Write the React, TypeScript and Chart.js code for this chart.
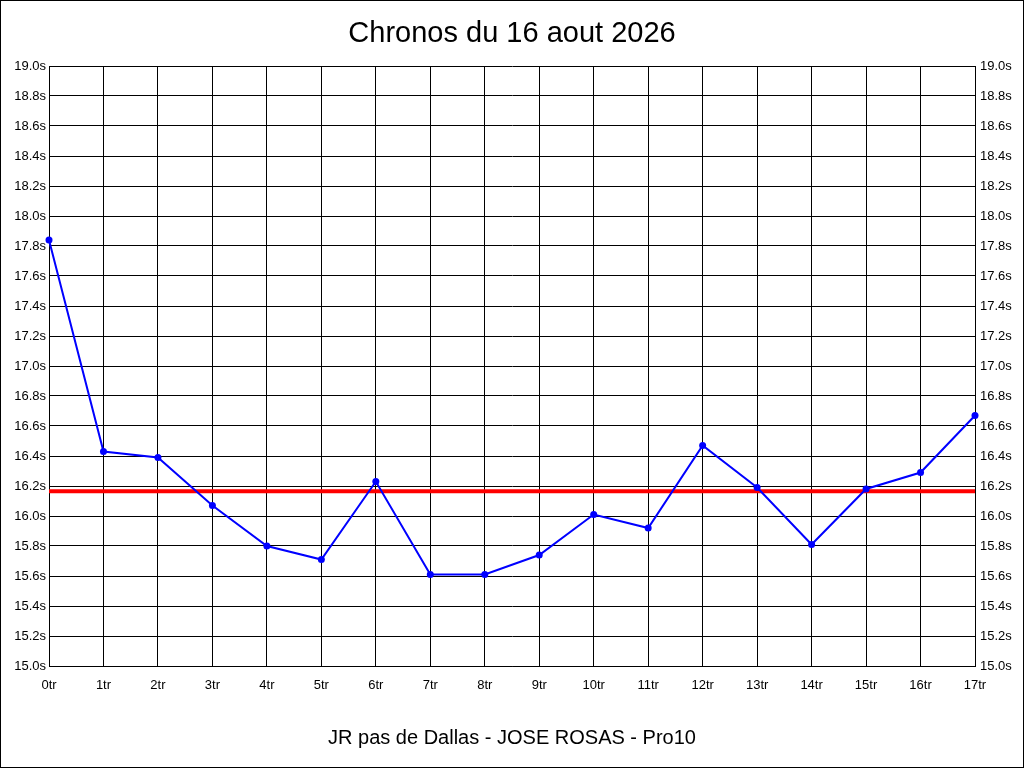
import React, { useEffect, useRef } from "react";
import { Chart, registerables } from "chart.js";

Chart.register(...registerables);

const TITLE = "Chronos du 16 aout 2026";
const X_TITLE = "JR pas de Dallas - JOSE ROSAS - Pro10";
const LAPS = ["0tr", "1tr", "2tr", "3tr", "4tr", "5tr", "6tr", "7tr", "8tr", "9tr", "10tr", "11tr", "12tr", "13tr", "14tr", "15tr", "16tr", "17tr"];
const TIMES = [17.84, 16.43, 16.39, 16.07, 15.8, 15.71, 16.23, 15.61, 15.61, 15.74, 16.01, 15.92, 16.47, 16.19, 15.81, 16.18, 16.29, 16.67];
const AVERAGE = 16.165;
const Y_MIN = 15.0;
const Y_MAX = 19.0;
const Y_STEP = 0.2;

const FONT = "'Liberation Sans', Arial, sans-serif";

export default function App() {
  const ref = useRef<HTMLCanvasElement | null>(null);

  useEffect(() => {
    document.body.style.margin = "0";
    if (!ref.current) return;
    const tickCb = (v: any) => Number(v).toFixed(1) + "s";
    const chart = new Chart(ref.current, {
      type: "line",
      data: {
        labels: LAPS,
        datasets: [
          {
            data: TIMES,
            borderColor: "#0000ff",
            backgroundColor: "#0000ff",
            borderWidth: 2,
            pointRadius: 3.5,
            pointBorderWidth: 0,
            pointBackgroundColor: "#0000ff",
            tension: 0,
            order: 0,
            yAxisID: "y",
          },
          {
            data: LAPS.map(() => AVERAGE),
            borderColor: "#ff0000",
            borderWidth: 4,
            pointRadius: 0,
            tension: 0,
            order: 1,
            yAxisID: "y",
          },
        ],
      },
      options: {
        responsive: false,
        animation: false,
        layout: { padding: 0 },
        plugins: {
          legend: { display: false },
          tooltip: { enabled: false },
          title: {
            display: true,
            text: TITLE,
            color: "#000",
            font: { family: FONT, size: 29, weight: "normal" },
            padding: { top: 16, bottom: 14.2 },
          },
        },
        scales: {
          x: {
            offset: false,
            grid: { color: "#000", lineWidth: 1, drawTicks: false },
            border: { color: "#000", width: 1 },
            ticks: {
              color: "#000",
              font: { family: FONT, size: 13 },
              padding: 12,
              maxRotation: 0,
              autoSkip: false,
            },
            title: {
              display: true,
              text: X_TITLE,
              color: "#000",
              font: { family: FONT, size: 20 },
              padding: { top: 0, bottom: 17 },
            },
            afterFit: (s: any) => {
              s.height = 101;
            },
          },
          y: {
            position: "left",
            min: Y_MIN,
            max: Y_MAX,
            grid: { color: "#000", lineWidth: 1, drawTicks: false },
            border: { color: "#000", width: 1 },
            ticks: {
              stepSize: Y_STEP,
              color: "#000",
              font: { family: FONT, size: 13 },
              padding: 3,
              callback: tickCb,
            },
            afterFit: (s: any) => {
              s.width = 48;
            },
          },
          y2: {
            position: "right",
            min: Y_MIN,
            max: Y_MAX,
            grid: { drawOnChartArea: false, drawTicks: false },
            border: { color: "#000", width: 1 },
            ticks: {
              stepSize: Y_STEP,
              color: "#000",
              font: { family: FONT, size: 13 },
              padding: 5,
              callback: tickCb,
            },
            afterFit: (s: any) => {
              s.width = 48;
            },
          },
        },
      },
    } as any);
    return () => chart.destroy();
  }, []);

  return (
    <div
      style={{
        position: "absolute",
        left: 0,
        top: 0,
        width: 1024,
        height: 768,
        boxSizing: "border-box",
        border: "1px solid #000",
        background: "#fff",
      }}
    >
      <canvas ref={ref} width={1022} height={766} style={{ display: "block", width: 1022, height: 766 }} />
    </div>
  );
}
